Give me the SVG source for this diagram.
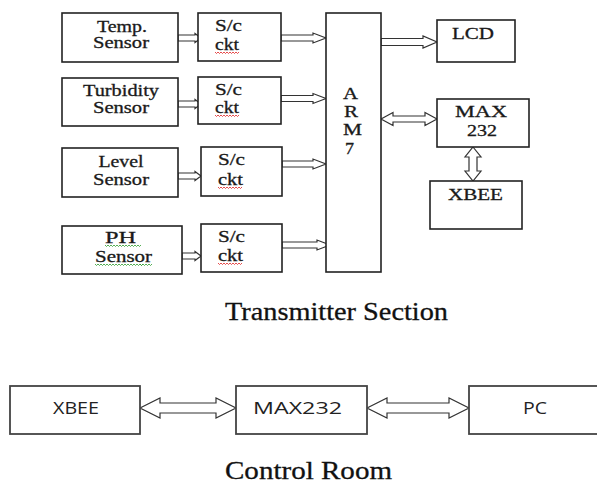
<svg xmlns="http://www.w3.org/2000/svg" xmlns:xlink="http://www.w3.org/1999/xlink" width="597" height="485" viewBox="0 0 597 485">
<style>
.box{fill:#fff;stroke:#222;stroke-width:1.6}
.box2{fill:#fff;stroke:#444;stroke-width:1.8}
.arr{fill:#fff;stroke:#333;stroke-width:1.2;stroke-linejoin:miter}
.t{font-family:"Liberation Serif","Times New Roman",serif;font-size:16px;fill:#1a1a1a;stroke:#1a1a1a;stroke-width:0.3}
.s{font-family:"Open Sans","Noto Sans","Liberation Sans",sans-serif;font-size:16px;fill:#222}
.h{font-family:"Liberation Serif","Times New Roman",serif;font-size:25px;fill:#111;stroke:#111;stroke-width:0.3}
.red{fill:none;stroke:#e02020;stroke-width:0.8}
.grn{fill:none;stroke:#2a9a2a;stroke-width:0.8}
</style>
<defs>
<path id="wave" d="M0,0 l1.5,1.5 l1.5,-1.5 l1.5,1.5 l1.5,-1.5 l1.5,1.5 l1.5,-1.5 l1.5,1.5 l1.5,-1.5"/>
</defs>

<g id="connectors">
<polygon class="arr" points="178,35 195,35 195,33.5 201,38 195,42.5 195,41 178,41"/>
<polygon class="arr" points="178,101 195,101 195,99.5 201,104 195,108.5 195,107 178,107"/>
<polygon class="arr" points="178,173 195,173 195,171.5 201,176 195,180.5 195,179 178,179"/>
<polygon class="arr" points="182,253 195,253 195,251.5 201,256 195,260.5 195,259 182,259"/>
<polygon class="arr" points="281,35 313,35 313,33 326,38 313,43 313,41 281,41"/>
<polygon class="arr" points="281,95.5 313,95.5 313,93.5 326,98.5 313,103.5 313,101.5 281,101.5"/>
<polygon class="arr" points="282,161 313,161 313,159 326,164 313,169 313,167 282,167"/>
<polygon class="arr" points="282,242 317,242 317,240 330,245 317,250 317,248 282,248"/>
<polygon class="arr" points="381,38.5 423,38.5 423,36 437,42 423,48 423,45.5 381,45.5"/>
<polygon class="arr" points="381,119 393,112.5 393,116 425,116 425,112.5 437,119 425,125.5 425,122 393,122 393,125.5"/>
<polygon class="arr" points="473,147 481,157 477,157 477,171 481,171 473,181 465,171 469,171 469,157 465,157"/>
<polygon class="arr" points="140,408 160,398 160,403 216,403 216,398 236,408 216,418 216,413 160,413 160,418"/>
<polygon class="arr" points="367,408 387,398 387,403 449,403 449,398 469,408 449,418 449,413 387,413 387,418"/>
</g>

<g id="temp-sensor">
<rect class="box" x="62" y="13" width="116" height="49"/>
<text class="t" x="122" y="32" text-anchor="middle" textLength="50" lengthAdjust="spacingAndGlyphs">Temp.</text>
<text class="t" x="121" y="48" text-anchor="middle" textLength="56" lengthAdjust="spacingAndGlyphs">Sensor</text>
</g>
<g id="sc1">
<rect class="box" x="198" y="13" width="83" height="48"/>
<text class="t" x="215" y="31" textLength="27" lengthAdjust="spacingAndGlyphs">S/c</text>
<text class="t" x="215" y="50" textLength="24" lengthAdjust="spacingAndGlyphs">ckt</text>
<use class="red" xlink:href="#wave" x="215" y="52"/><use class="red" xlink:href="#wave" x="227" y="52"/>
</g>

<g id="turbidity-sensor">
<rect class="box" x="62" y="78" width="116" height="48"/>
<text class="t" x="121" y="96" text-anchor="middle" textLength="76" lengthAdjust="spacingAndGlyphs">Turbidity</text>
<text class="t" x="121" y="113" text-anchor="middle" textLength="56" lengthAdjust="spacingAndGlyphs">Sensor</text>
</g>
<g id="sc2">
<rect class="box" x="198" y="77" width="83" height="47"/>
<text class="t" x="215" y="95" textLength="27" lengthAdjust="spacingAndGlyphs">S/c</text>
<text class="t" x="215" y="113" textLength="24" lengthAdjust="spacingAndGlyphs">ckt</text>
<use class="red" xlink:href="#wave" x="215" y="115"/><use class="red" xlink:href="#wave" x="227" y="115"/>
</g>

<g id="level-sensor">
<rect class="box" x="62" y="148" width="116" height="49"/>
<text class="t" x="121" y="167" text-anchor="middle" textLength="45" lengthAdjust="spacingAndGlyphs">Level</text>
<text class="t" x="121" y="185" text-anchor="middle" textLength="56" lengthAdjust="spacingAndGlyphs">Sensor</text>
</g>
<g id="sc3">
<rect class="box" x="201" y="147" width="81" height="49"/>
<text class="t" x="218" y="165" textLength="27" lengthAdjust="spacingAndGlyphs">S/c</text>
<text class="t" x="218" y="185" textLength="25" lengthAdjust="spacingAndGlyphs">ckt</text>
<use class="red" xlink:href="#wave" x="218" y="187"/><use class="red" xlink:href="#wave" x="230" y="187"/>
</g>

<g id="ph-sensor">
<rect class="box" x="62" y="226" width="120" height="48"/>
<text class="t" x="120.5" y="243" text-anchor="middle" textLength="31" lengthAdjust="spacingAndGlyphs">PH</text>
<text class="t" x="123.5" y="262" text-anchor="middle" textLength="57" lengthAdjust="spacingAndGlyphs">Sensor</text>
<use class="grn" xlink:href="#wave" x="105" y="245"/><use class="grn" xlink:href="#wave" x="117" y="245"/><use class="grn" xlink:href="#wave" x="129" y="245"/>
<use class="grn" xlink:href="#wave" x="95" y="264"/><use class="grn" xlink:href="#wave" x="107" y="264"/><use class="grn" xlink:href="#wave" x="119" y="264"/><use class="grn" xlink:href="#wave" x="131" y="264"/><use class="grn" xlink:href="#wave" x="140" y="264"/>
</g>
<g id="sc4">
<rect class="box" x="201" y="224" width="81" height="48"/>
<text class="t" x="218" y="242" textLength="27" lengthAdjust="spacingAndGlyphs">S/c</text>
<text class="t" x="218" y="261" textLength="25" lengthAdjust="spacingAndGlyphs">ckt</text>
<use class="red" xlink:href="#wave" x="218" y="263"/><use class="red" xlink:href="#wave" x="230" y="263"/>
</g>

<g id="arm7">
<rect class="box" x="326" y="13" width="55" height="259"/>
<text class="t" x="343" y="99" textLength="15" lengthAdjust="spacingAndGlyphs">A</text>
<text class="t" x="344" y="117" textLength="14" lengthAdjust="spacingAndGlyphs">R</text>
<text class="t" x="343" y="135" textLength="19" lengthAdjust="spacingAndGlyphs">M</text>
<text class="t" x="345" y="154" textLength="9" lengthAdjust="spacingAndGlyphs">7</text>
</g>

<g id="lcd">
<rect class="box" x="437" y="20" width="78" height="42"/>
<text class="t" x="452" y="39" textLength="42" lengthAdjust="spacingAndGlyphs">LCD</text>
</g>
<g id="max232-tx">
<rect class="box" x="437" y="99" width="92" height="48"/>
<text class="t" x="455" y="117" textLength="52" lengthAdjust="spacingAndGlyphs">MAX</text>
<text class="t" x="467" y="136" textLength="30" lengthAdjust="spacingAndGlyphs">232</text>
</g>
<g id="xbee-tx">
<rect class="box" x="430" y="181" width="92" height="48"/>
<text class="t" x="448" y="200" textLength="55" lengthAdjust="spacingAndGlyphs">XBEE</text>
</g>

<text class="h" x="225" y="320" textLength="223" lengthAdjust="spacingAndGlyphs">Transmitter Section</text>

<g id="xbee-rx">
<rect class="box2" x="10" y="386" width="130" height="48"/>
<text class="s" x="53" y="414" textLength="46" lengthAdjust="spacingAndGlyphs">XBEE</text>
</g>
<g id="max232-rx">
<rect class="box2" x="236" y="386" width="131" height="48"/>
<text class="s" x="253" y="414" textLength="89" lengthAdjust="spacingAndGlyphs">MAX232</text>
</g>
<g id="pc">
<rect class="box2" x="469" y="386" width="140" height="48"/>
<text class="s" x="523" y="414" textLength="24" lengthAdjust="spacingAndGlyphs">PC</text>
</g>

<text class="h" x="225" y="479" textLength="167" lengthAdjust="spacingAndGlyphs">Control Room</text>
</svg>
